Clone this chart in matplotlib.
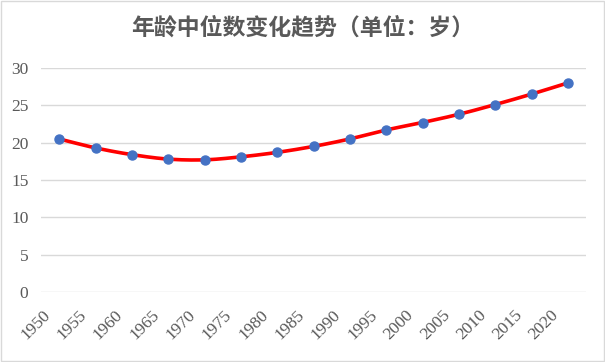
import matplotlib.pyplot as plt
import matplotlib.transforms as mtransforms
import numpy as np

plt.rcParams['font.family'] = ['Liberation Serif', 'Noto Sans CJK SC']

years = ['1950', '1955', '1960', '1965', '1970', '1975', '1980', '1985',
         '1990', '1995', '2000', '2005', '2010', '2015', '2020']
median_age = [20.5, 19.3, 18.4, 17.8, 17.7, 18.1, 18.7, 19.5,
              20.5, 21.7, 22.7, 23.8, 25.1, 26.5, 28.0]


def smooth(x, y, n=20):
    # catmull-rom spline, roughly what Excel's "smoothed line" does
    x = np.asarray(x, float)
    y = np.asarray(y, float)
    px = np.concatenate([[2 * x[0] - x[1]], x, [2 * x[-1] - x[-2]]])
    py = np.concatenate([[2 * y[0] - y[1]], y, [2 * y[-1] - y[-2]]])
    xs, ys = [], []
    t = np.linspace(0, 1, n)
    for i in range(1, len(px) - 2):
        for p, out in ((px, xs), (py, ys)):
            p0, p1, p2, p3 = p[i - 1], p[i], p[i + 1], p[i + 2]
            out.extend(0.5 * (2 * p1 + (-p0 + p2) * t
                              + (2 * p0 - 5 * p1 + 4 * p2 - p3) * t ** 2
                              + (-p0 + 3 * p1 - 3 * p2 + p3) * t ** 3))
    return xs, ys


fig = plt.figure(figsize=(6.05, 3.62), dpi=100)
ax = fig.add_axes([41 / 605, 1 - 292 / 362, 545 / 605, 224 / 362])

x = np.arange(len(years))
sx, sy = smooth(x, median_age)
ax.plot(sx, sy, color='#ff0000', lw=2.6, zorder=2)
ax.plot(x, median_age, 'o', color='#4472c4', ms=6.5, zorder=3)

ax.set_xlim(-0.5, len(years) - 0.5)
ax.set_ylim(0, 30)
ax.set_yticks(range(0, 31, 5))
ax.set_xticks(x)
ax.set_xticklabels(years, rotation=45, ha='right', rotation_mode='anchor')
ax.tick_params(length=0, labelsize=12.5, colors='#595959')
ax.tick_params(axis='y', pad=9)
ax.tick_params(axis='x', pad=11)
shift = mtransforms.ScaledTranslation(-17 / 100, 0, fig.dpi_scale_trans)
for lab in ax.get_xticklabels():
    lab.set_transform(lab.get_transform() + shift)
ax.grid(axis='y', color='#d9d9d9', lw=1)
ax.set_axisbelow(True)
for s in ax.spines.values():
    s.set_visible(False)

fig.text(0.5, 1 - 28 / 362, '年龄中位数变化趋势（单位：岁）', ha='center', va='center',
         fontsize=16.5, fontweight='bold', color='#595959',
         family=['Noto Sans CJK SC'])

fig.patches.append(plt.Rectangle((0.002, 0.003), 0.996, 0.994, transform=fig.transFigure,
                                 fill=False, edgecolor='#d9d9d9', lw=1))

fig.savefig('out.png', dpi=100)
